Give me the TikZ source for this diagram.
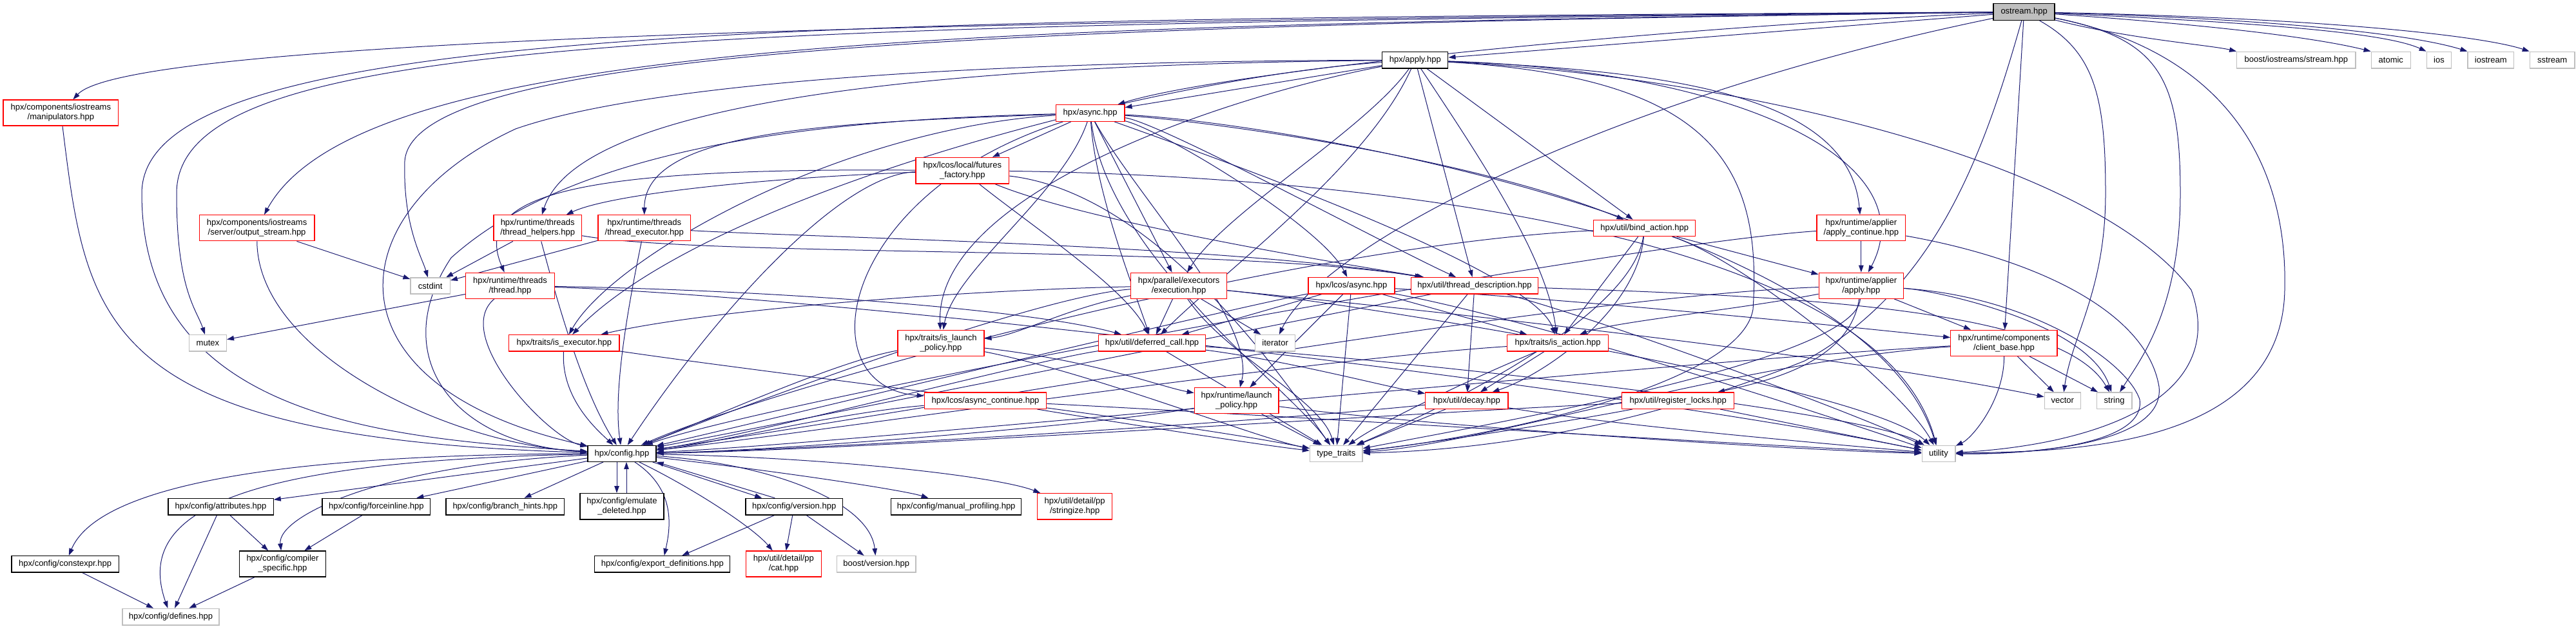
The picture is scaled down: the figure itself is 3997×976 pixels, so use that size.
\documentclass[tikz,border=0pt]{standalone}
\usepackage{fontspec}
\setmainfont{Liberation Sans}
\usetikzlibrary{arrows.meta}
\pgfdeclarelayer{bg}
\pgfsetlayers{bg,main}
\definecolor{edgecol}{HTML}{191970}
\definecolor{grayb}{HTML}{BFBFBF}
\newcommand\nodefont{\fontsize{13}{15}\selectfont}
\newcommand\mknode[6]{\node[#1, minimum width=#5pt, minimum height=#6pt] (#2) at (#3) {#4};}
\tikzset{
  edg/.style={draw=edgecol, line width=1pt, -{Triangle[length=11pt,width=7.5pt]}},
  nb/.style={draw, rectangle, inner sep=0pt, fill=white, font=\nodefont, align=center, line width=1.3pt},
  redn/.style={nb, draw=red},
  blkn/.style={nb, draw=black},
  grayn/.style={nb, draw=grayb},
  rootn/.style={nb, draw=black, fill=grayb},
}
\begin{document}
\begin{tikzpicture}[x=1pt,y=-1pt]
\useasboundingbox (0,0) rectangle (3997,976);
% nodes
\mknode{rootn}{ostream}{3140.6,18.5}{ostream.hpp}{95}{25.6}
\mknode{blkn}{apply}{2195.8,93.2}{hpx/apply.hpp}{102}{25.7}
\mknode{grayn}{boostio}{3562.9,93.2}{boost/iostreams/stream.hpp}{184.3}{25.7}
\mknode{grayn}{atomic}{3709.8,93.2}{atomic}{61.2}{25.7}
\mknode{grayn}{ios}{3784.4,93.2}{ios}{38.3}{25.7}
\mknode{grayn}{iostream}{3864.8,93.2}{iostream}{71.4}{25.7}
\mknode{grayn}{sstream}{3960.1,93.2}{sstream}{69.5}{25.7}
\mknode{redn}{manip}{94.4,175}{hpx/components/iostreams\\/manipulators.hpp}{178.6}{40}
\mknode{redn}{async}{1691.6,175.5}{hpx/async.hpp}{106.5}{25.6}
\mknode{redn}{ff}{1493.3,264.7}{hpx/lcos/local/futures\\\_factory.hpp}{144.8}{40.7}
\mknode{redn}{outstream}{398.6,353.8}{hpx/components/iostreams\\/server/output\_stream.hpp}{178.6}{40}
\mknode{redn}{thelpers}{834.2,353.8}{hpx/runtime/threads\\/thread\_helpers.hpp}{136.5}{40}
\mknode{redn}{texec}{999.7,353.8}{hpx/runtime/threads\\/thread\_executor.hpp}{143.4}{40}
\mknode{redn}{bindaction}{2551.7,354}{hpx/util/bind\_action.hpp}{158}{25.3}
\mknode{redn}{applycont}{2887.8,353.8}{hpx/runtime/applier\\/apply\_continue.hpp}{137.7}{40}
\mknode{grayn}{cstdint}{667.7,443.5}{cstdint}{61.3}{25}
\mknode{redn}{thread}{791.5,443.3}{hpx/runtime/threads\\/thread.hpp}{137.7}{40}
\mknode{redn}{execution}{1829.1,443.3}{hpx/parallel/executors\\/execution.hpp}{149.2}{40}
\mknode{redn}{lcosasync}{2097,443.3}{hpx/lcos/async.hpp}{133.9}{25.3}
\mknode{redn}{threaddesc}{2288,443.3}{hpx/util/thread\_description.hpp}{197.1}{25.3}
\mknode{redn}{applierapply}{2887.8,443.3}{hpx/runtime/applier\\/apply.hpp}{131.3}{40}
\mknode{grayn}{mutex}{322.4,532.3}{mutex}{58}{25.3}
\mknode{redn}{isexec}{875.3,532.3}{hpx/traits/is\_executor.hpp}{171.6}{25.3}
\mknode{redn}{islaunch}{1459.9,532.3}{hpx/traits/is\_launch\\\_policy.hpp}{133.9}{40}
\mknode{redn}{deferred}{1787.6,532.3}{hpx/util/deferred\_call.hpp}{165.8}{25.3}
\mknode{grayn}{iterator}{1978.6,532.3}{iterator}{61.9}{25.3}
\mknode{redn}{isaction}{2417,532.3}{hpx/traits/is\_action.hpp}{156.9}{25.3}
\mknode{redn}{clientbase}{3109.4,532.3}{hpx/runtime/components\\/client\_base.hpp}{165.2}{40}
\mknode{redn}{asynccont}{1529,621.7}{hpx/lcos/async\_continue.hpp}{189.4}{25.3}
\mknode{redn}{launchpol}{1918.6,621.8}{hpx/runtime/launch\\\_policy.hpp}{130.7}{40}
\mknode{redn}{decay}{2275.8,621.7}{hpx/util/decay.hpp}{128.2}{25.3}
\mknode{redn}{reglocks}{2603.7,621.7}{hpx/util/register\_locks.hpp}{174.1}{25.3}
\mknode{grayn}{vector}{3200.3,621.7}{vector}{56.1}{25.3}
\mknode{grayn}{string}{3280.6,621.7}{string}{54.8}{25.3}
\mknode{blkn}{config}{965,703.8}{hpx/config.hpp}{106}{25}
\mknode{grayn}{typetraits}{2073.3,703.8}{type\_traits}{81.6}{25}
\mknode{grayn}{utility}{3008,703.8}{utility}{51.7}{25}
\mknode{blkn}{attributes}{342.5,786.2}{hpx/config/attributes.hpp}{163.3}{25.7}
\mknode{blkn}{forceinline}{583.9,786.2}{hpx/config/forceinline.hpp}{167.7}{25.7}
\mknode{blkn}{branchhints}{783.8,786.2}{hpx/config/branch\_hints.hpp}{183.6}{25.7}
\mknode{blkn}{emulate}{965,785.8}{hpx/config/emulate\\\_deleted.hpp}{130}{40.3}
\mknode{blkn}{version}{1232.2,786.2}{hpx/config/version.hpp}{150.5}{25.7}
\mknode{blkn}{manualprof}{1483.7,786.2}{hpx/config/manual\_profiling.hpp}{202.1}{25.7}
\mknode{redn}{stringize}{1667.7,785.8}{hpx/util/detail/pp\\/stringize.hpp}{116.1}{40.3}
\mknode{blkn}{constexpr}{101.1,875.3}{hpx/config/constexpr.hpp}{166.4}{25.3}
\mknode{blkn}{compiler}{438.5,875}{hpx/config/compiler\\\_specific.hpp}{134.5}{40}
\mknode{blkn}{exportdef}{1027.8,875.3}{hpx/config/export\_definitions.hpp}{210}{25.3}
\mknode{redn}{cat}{1215.9,875}{hpx/util/detail/pp\\/cat.hpp}{116.7}{40}
\mknode{grayn}{boostversion}{1359.7,875.3}{boost/version.hpp}{122.4}{25.3}
\mknode{grayn}{defines}{265,957.2}{hpx/config/defines.hpp}{150}{25.7}
\begin{pgfonlayer}{bg}
\fill[white] (0,0) rectangle (3997,976);
% ostream edges
\draw[edg] (ostream) -- (apply);
\draw[edg] (ostream) .. controls (2600,40) and (1900,110) .. (async);
\draw[edg] (ostream) .. controls (3300,60) and (3430,70) .. (boostio.north west) ;
\draw[edg] (ostream) .. controls (3450,40) and (3600,60) .. (atomic.north west);
\draw[edg] (ostream) .. controls (3500,35) and (3700,50) .. (ios.north west);
\draw[edg] (ostream) .. controls (3550,30) and (3750,55) .. (iostream.north west);
\draw[edg] (ostream) .. controls (3600,28) and (3850,55) .. (sstream.north west);
\draw[edg] (ostream) .. controls (1500,30) and (200,60) .. (manip);
\draw[edg] (ostream) .. controls (1200,30) and (220,40) .. (220,300) .. controls (220,650) and (600,680) .. (config);
\draw[edg] (ostream) .. controls (1000,40) and (274,60) .. (274,300) .. controls (274,450) and (305,480) .. (mutex);
\draw[edg] (ostream) .. controls (1500,40) and (560,60) .. (outstream);
\draw[edg] (ostream) .. controls (1500,40) and (640,80) .. (628,250) .. controls (625,350) and (655,400) .. (cstdint);
\draw[edg] (ostream) .. controls (2500,150) and (2050,380) .. (iterator);
\draw[edg] (ostream) -- (clientbase);
\draw[edg] (ostream) .. controls (3250,80) and (3267,150) .. (3267,300) .. controls (3267,450) and (3215,520) .. (vector);
\draw[edg] (ostream) .. controls (3350,60) and (3383,120) .. (3383,300) .. controls (3383,480) and (3320,560) .. (string);
\draw[edg] (ostream) .. controls (3450,80) and (3550,250) .. (3545,450) .. controls (3540,700) and (3200,700) .. (utility);
\draw[edg] (ostream) .. controls (3075,250) and (3000,450) .. (2800,560) .. controls (2500,680) and (2250,700) .. (typetraits);
% apply edges
\draw[edg] (apply) -- (async);
\draw[edg] (apply) .. controls (1500,95) and (1000,130) .. (800,200) .. controls (520,330) and (500,600) .. (config);
\draw[edg] (apply) .. controls (2120,200) and (1900,330) .. (execution);
\draw[edg] (apply) .. controls (2120,260) and (1900,420) .. (deferred);
\draw[edg] (apply) -- (threaddesc);
\draw[edg] (apply) -- (bindaction);
\draw[edg] (apply) .. controls (2600,110) and (2870,150) .. (applycont);
\draw[edg] (apply) .. controls (2700,110) and (2990,250) .. (applierapply);
\draw[edg] (apply) .. controls (2650,120) and (2735,250) .. (2720,480) .. controls (2700,600) and (2300,680) .. (typetraits);
\draw[edg] (apply) .. controls (2700,120) and (3250,250) .. (3400,450) .. controls (3460,620) and (3250,690) .. (utility);
\draw[edg] (apply) .. controls (1800,120) and (1100,300) .. (isexec);
\draw[edg] (apply) .. controls (1900,150) and (1450,300) .. (islaunch);
\draw[edg] (apply) .. controls (2300,250) and (2400,400) .. (isaction);
\draw[edg] (apply) .. controls (1500,100) and (900,150) .. (thelpers);
% async edges
\draw[edg] (async) .. controls (1300,185) and (900,220) .. (700,400) .. controls (600,550) and (700,690) .. (config);
\draw[edg] (async) -- (ff);
\draw[edg] (async) -- (execution);
\draw[edg] (async) .. controls (1800,200) and (2050,350) .. (lcosasync);
\draw[edg] (async) .. controls (1800,190) and (2150,380) .. (threaddesc);
\draw[edg] (async) .. controls (1900,190) and (2300,250) .. (bindaction);
\draw[edg] (async) .. controls (1300,200) and (950,400) .. (isexec);
\draw[edg] (async) .. controls (1650,300) and (1480,420) .. (islaunch);
\draw[edg] (async) .. controls (1700,300) and (1760,450) .. (deferred);
\draw[edg] (async) .. controls (1900,250) and (2380,420) .. (isaction);
\draw[edg] (async) .. controls (1760,300) and (1950,500) .. (launchpol);
\draw[edg] (async) .. controls (1300,300) and (1250,600) .. (asynccont);
\draw[edg] (async) .. controls (1300,190) and (1000,200) .. (texec);
\draw[edg] (async) .. controls (1720,400) and (2000,600) .. (typetraits);
\draw[edg] (async) .. controls (2000,190) and (2900,350) .. (utility);
% futures factory
\draw[edg] (ff) .. controls (1300,270) and (1100,500) .. (config);
\draw[edg] (ff) .. controls (1200,275) and (950,300) .. (thelpers);
\draw[edg] (ff) .. controls (900,260) and (730,300) .. (thread);
\draw[edg] (ff) .. controls (1600,350) and (1750,450) .. (deferred);
\draw[edg] (ff) .. controls (1800,300) and (2000,600) .. (typetraits);
\draw[edg] (ff) .. controls (1800,268) and (2900,300) .. (utility);
\draw[edg] (ff) .. controls (1700,350) and (2150,420) .. (threaddesc);
% iostreams
\draw[edg] (outstream) -- (cstdint);
\draw[edg] (outstream) .. controls (400,550) and (700,690) .. (config);
\draw[edg] (manip) .. controls (135,500) and (150,680) .. (config);
% threads
\draw[edg] (thelpers) -- (cstdint);
\draw[edg] (thelpers) .. controls (860,450) and (900,600) .. (config);
\draw[edg] (thelpers) .. controls (1100,400) and (1900,380) .. (threaddesc);
\draw[edg] (texec) -- (cstdint);
\draw[edg] (texec) .. controls (980,450) and (950,600) .. (config);
\draw[edg] (texec) .. controls (1300,370) and (1900,380) .. (threaddesc);
\draw[edg] (thread) -- (mutex);
\draw[edg] (thread) .. controls (700,520) and (850,680) .. (config);
\draw[edg] (thread) .. controls (1200,450) and (1600,480) .. (deferred);
\draw[edg] (thread) .. controls (1300,460) and (2500,600) .. (utility);
% bind action
\draw[edg] (bindaction) -- (applierapply);
\draw[edg] (bindaction) -- (isaction);
\draw[edg] (bindaction) .. controls (2540,480) and (2400,580) .. (decay);
\draw[edg] (bindaction) .. controls (2000,380) and (1200,600) .. (config);
\draw[edg] (bindaction) .. controls (2530,500) and (2200,650) .. (typetraits);
\draw[edg] (bindaction) .. controls (2700,400) and (2950,600) .. (utility);
% applier
\draw[edg] (applycont) -- (applierapply);
\draw[edg] (applycont) .. controls (2500,380) and (1200,620) .. (config);
\draw[edg] (applycont) .. controls (3150,400) and (3330,480) .. (3350,600) .. controls (3360,690) and (3150,705) .. (utility);
\draw[edg] (applierapply) .. controls (3000,450) and (3240,500) .. (string);
\draw[edg] (applierapply) -- (clientbase);
\draw[edg] (applierapply) .. controls (2700,480) and (2500,500) .. (isaction);
\draw[edg] (applierapply) .. controls (2870,560) and (2750,590) .. (reglocks);
\draw[edg] (applierapply) .. controls (2400,460) and (1300,660) .. (config);
\draw[edg] (applierapply) .. controls (2880,560) and (2300,660) .. (typetraits);
\draw[edg] (applierapply) .. controls (3150,460) and (3300,560) .. (3320,620) .. controls (3330,690) and (3150,705) .. (utility);
% execution
\draw[edg] (execution) .. controls (1500,450) and (1100,480) .. (isexec);
\draw[edg] (execution) .. controls (1650,480) and (1580,520) .. (islaunch);
\draw[edg] (execution) -- (deferred);
\draw[edg] (execution) -- (iterator);
\draw[edg] (execution) .. controls (1600,460) and (1100,650) .. (config);
\draw[edg] (execution) .. controls (1900,550) and (2050,620) .. (typetraits);
\draw[edg] (execution) .. controls (2100,470) and (2900,600) .. (utility);
\draw[edg] (execution) .. controls (2400,500) and (2900,560) .. (vector);
% lcos async
\draw[edg] (lcosasync) -- (deferred);
\draw[edg] (lcosasync) -- (isaction);
\draw[edg] (lcosasync) -- (launchpol);
\draw[edg] (lcosasync) -- (typetraits);
\draw[edg] (lcosasync) .. controls (2500,470) and (2800,500) .. (clientbase);
\draw[edg] (lcosasync) .. controls (1900,480) and (1200,650) .. (config);
\draw[edg] (lcosasync) .. controls (2400,500) and (2850,650) .. (utility);
% thread description
\draw[edg] (threaddesc) .. controls (2000,500) and (1200,660) .. (config);
\draw[edg] (threaddesc) -- (typetraits);
\draw[edg] (threaddesc) -- (decay);
\draw[edg] (threaddesc) .. controls (2500,500) and (2900,650) .. (utility);
\draw[edg] (threaddesc) .. controls (2800,460) and (3200,480) .. (string);
% traits and utils
\draw[edg] (isexec) .. controls (870,620) and (930,670) .. (config);
\draw[edg] (isexec) .. controls (1200,580) and (1800,650) .. (typetraits);
\draw[edg] (islaunch) .. controls (1700,560) and (1800,600) .. (launchpol);
\draw[edg] (islaunch) .. controls (1300,560) and (1100,650) .. (config);
\draw[edg] (islaunch) .. controls (1700,580) and (1950,680) .. (typetraits);
\draw[edg] (deferred) .. controls (2000,560) and (2150,600) .. (decay);
\draw[edg] (deferred) .. controls (1600,560) and (1150,680) .. (config);
\draw[edg] (deferred) -- (typetraits);
\draw[edg] (deferred) .. controls (2200,560) and (2900,640) .. (utility);
\draw[edg] (isaction) -- (decay);
\draw[edg] (isaction) .. controls (2000,560) and (1200,680) .. (config);
\draw[edg] (isaction) .. controls (2300,580) and (2150,650) .. (typetraits);
\draw[edg] (clientbase) -- (vector);
\draw[edg] (clientbase) -- (string);
\draw[edg] (clientbase) .. controls (3110,620) and (3060,680) .. (utility);
\draw[edg] (clientbase) .. controls (2600,560) and (1300,690) .. (config);
\draw[edg] (clientbase) .. controls (2700,560) and (2300,690) .. (typetraits);
\draw[edg] (asynccont) .. controls (1300,640) and (1100,690) .. (config);
\draw[edg] (asynccont) .. controls (1700,650) and (1950,690) .. (typetraits);
\draw[edg] (asynccont) .. controls (1900,640) and (2700,690) .. (utility);
\draw[edg] (launchpol) .. controls (1700,660) and (1200,700) .. (config);
\draw[edg] (launchpol) -- (typetraits);
\draw[edg] (launchpol) .. controls (2200,660) and (2800,700) .. (utility);
\draw[edg] (decay) .. controls (1900,660) and (1200,700) .. (config);
\draw[edg] (decay) -- (typetraits);
\draw[edg] (decay) .. controls (2500,660) and (2850,690) .. (utility);
\draw[edg] (reglocks) .. controls (2400,660) and (2200,690) .. (typetraits);
\draw[edg] (reglocks) -- (utility);
\draw[edg] (reglocks) .. controls (2200,640) and (1300,700) .. (config);
% config
\draw[edg] (config) -- (attributes);
\draw[edg] (config) -- (forceinline);
\draw[edg] (config) -- (branchhints);
\draw[edg] ([xshift=-8pt]config.south) -- ([xshift=-8pt]emulate.north);
\draw[edg] ([xshift=7pt]emulate.north) -- ([xshift=7pt]config.south);
\draw[edg] (config) .. controls (400,705) and (150,760) .. (constexpr);
\draw[edg] (config) .. controls (350,715) and (210,800) .. (defines);
\draw[edg] (config) .. controls (600,720) and (430,800) .. (compiler);
\draw[edg] ([xshift=-6pt]config.south east) -- ([xshift=-50pt]version.north);
\draw[edg] ([xshift=-30pt]version.north) -- (config.south east);
\draw[edg] (config) .. controls (1200,730) and (1400,760) .. (manualprof);
\draw[edg] (config) .. controls (1300,710) and (1550,740) .. (stringize);
\draw[edg] (config) .. controls (1050,760) and (1040,820) .. (exportdef);
\draw[edg] (config) .. controls (1080,760) and (1170,820) .. (cat);
\draw[edg] (config) .. controls (1200,720) and (1350,780) .. (boostversion);
\draw[edg] (attributes) -- (compiler);
\draw[edg] (attributes) -- (defines);
\draw[edg] (forceinline) -- (compiler);
\draw[edg] (constexpr) -- (defines);
\draw[edg] (compiler) -- (defines);
\draw[edg] (version) -- (exportdef);
\draw[edg] (version) -- (cat);
\draw[edg] (version) -- (boostversion);
\end{pgfonlayer}
\end{tikzpicture}
\end{document}
